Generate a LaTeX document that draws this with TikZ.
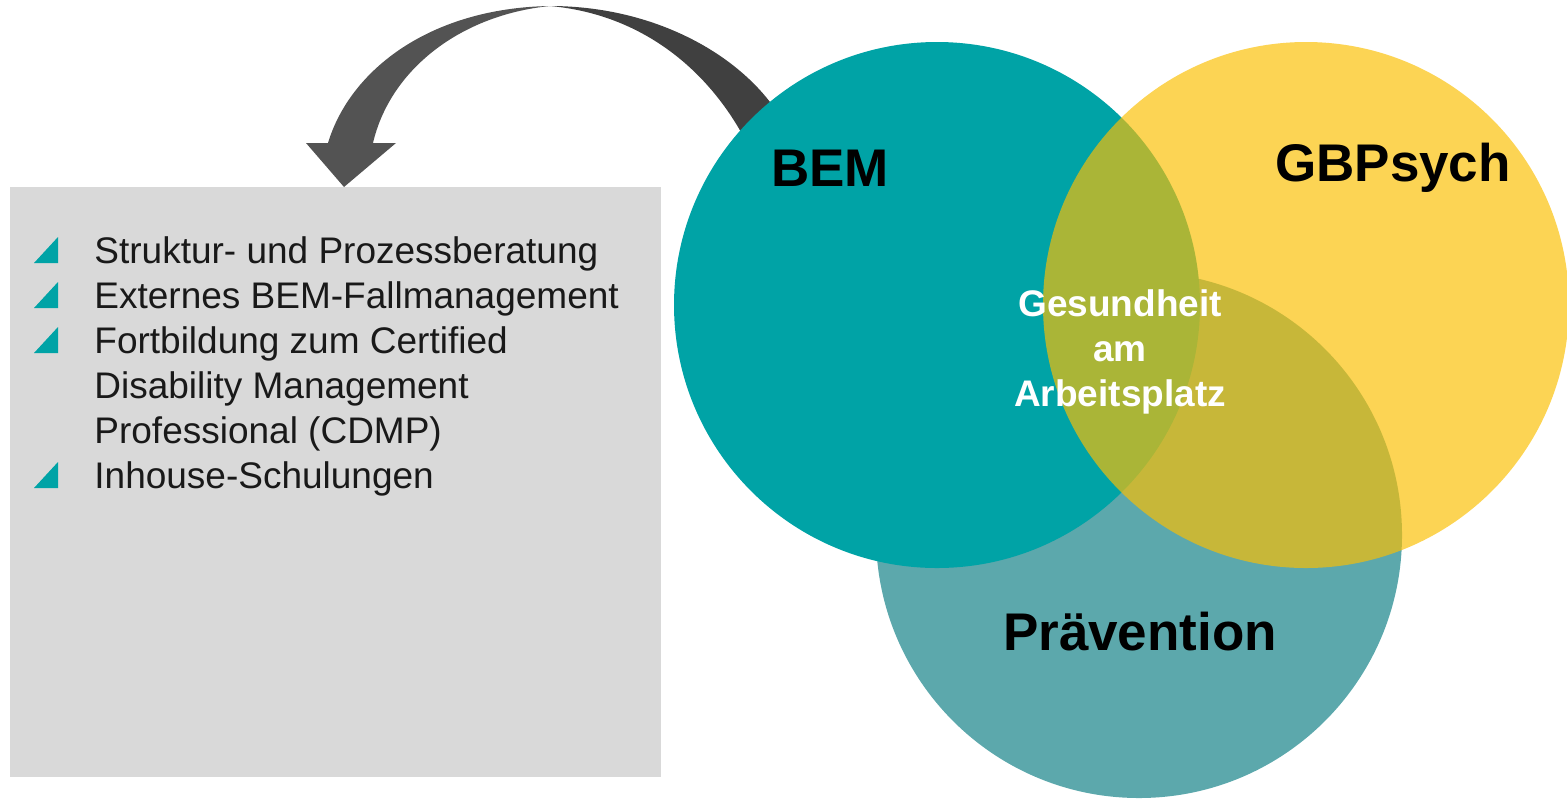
\documentclass[tikz,border=0pt]{standalone}
\usepackage{fontspec}
\setmainfont{Liberation Sans}
\definecolor{bemteal}{RGB}{0,163,166}
\definecolor{praeteal}{RGB}{92,168,172}
\definecolor{gbpyellow}{RGB}{251,191,3}
\definecolor{boxgrey}{RGB}{217,217,217}
\definecolor{arrowlight}{RGB}{83,83,83}
\definecolor{arrowdark}{RGB}{64,64,64}
\tikzset{
  venn/.style={circle,minimum size=263pt,inner sep=0pt},
  venntitle/.style={font=\fontsize{26.5}{30}\selectfont\bfseries},
  listline/.style={anchor=base west,inner sep=0pt,font=\fontsize{18.5}{22}\selectfont,text=black!90},
}
\begin{document}
\begin{tikzpicture}[x=0.5pt,y=-0.5pt]
\useasboundingbox (0,0) rectangle (1567,799);
% offer box
\fill[boxgrey] (10,187) rectangle (661,777);
\foreach \txt/\hasbul [count=\i] in {Struktur- und Prozessberatung/1,
    Externes BEM-Fallmanagement/1,Fortbildung zum Certified/1,
    Disability Management/0,Professional (CDMP)/0,Inhouse-Schulungen/1}{
  \pgfmathsetmacro\yb{218+45*\i}
  \node[listline] (item\i) at (94,\yb) {\txt};
  \ifnum\hasbul=1
    \fill[bemteal] (34,\yb) -- (58,\yb) -- (58,\yb-26) -- cycle;
  \fi
}
% curved arrow
\coordinate (top) at (550,6);
\coordinate (tip) at (344,187);
\fill[arrowdark] (top) .. controls (660,6) and (750,60) .. (785,125)
  -- (755,160) .. controls (720,80) and (650,15) .. (top) -- cycle;
\fill[arrowlight] (top) .. controls (430,8) and (350,70) .. (328,143)
  -- (306,143) -- (tip) -- (396,143) -- (373,143)
  .. controls (390,70) and (460,15) .. (top) -- cycle;
% venn circles
\node[venn,fill=praeteal] (prae) at (1139,535) {};
\node[venn,fill=bemteal] (bem) at (937,305) {};
\node[venn,fill=gbpyellow,fill opacity=0.68] (gbp) at (1306,305) {};
\node[venntitle] (bemlabel) at (830,168) {BEM};
\node[venntitle] (gbplabel) at (1393,168) {GBPsych};
\node[venntitle] (praelabel) at (1140,632) {Prävention};
\node[align=center,text=white,font=\fontsize{18.5}{22.5}\selectfont\bfseries]
  (center) at (1120,352) {Gesundheit\\am\\Arbeitsplatz};
\end{tikzpicture}
\end{document}
